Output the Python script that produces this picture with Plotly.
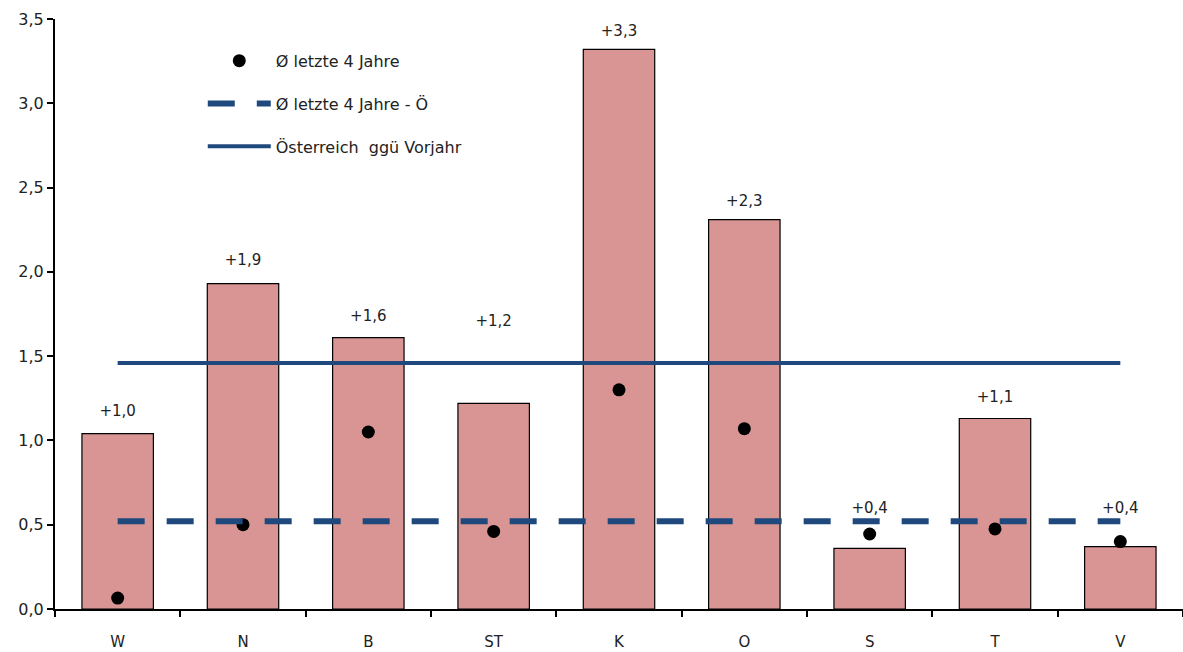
import plotly.graph_objects as go

categories = ["W", "N", "B", "ST", "K", "O", "S", "T", "V"]
bar_values = [1.04, 1.93, 1.61, 1.22, 3.32, 2.31, 0.36, 1.13, 0.37]
bar_labels = ["+1,0", "+1,9", "+1,6", "+1,2", "+3,3", "+2,3", "+0,4", "+1,1", "+0,4"]
label_y = [1.17, 2.06, 1.73, 1.70, 3.42, 2.41, 0.59, 1.25, 0.59]
avg4_values = [0.065, 0.50, 1.05, 0.46, 1.30, 1.07, 0.445, 0.475, 0.40]
avg4_austria = 0.52
austria_prev_year = 1.46

FONT = "DejaVu Sans"
BAR_COLOR = "#D99594"
BLUE = "#1F497D"
TXT = "#222222"

fig = go.Figure()

fig.add_trace(go.Bar(
    x=categories, y=bar_values, width=0.57,
    marker=dict(color=BAR_COLOR, line=dict(color="black", width=1.2)),
    showlegend=False, hoverinfo="skip",
))

fig.add_trace(go.Scatter(
    x=categories, y=avg4_values, mode="markers",
    marker=dict(color="black", size=13),
    name="Ø letzte 4 Jahre", legendgroup="a",
))
fig.add_trace(go.Scatter(
    x=categories, y=[avg4_austria] * len(categories), mode="lines",
    line=dict(color=BLUE, width=6, dash="27px,22px"),
    name="Ø letzte 4 Jahre - Ö", legendgroup="b",
))
fig.add_trace(go.Scatter(
    x=categories, y=[austria_prev_year] * len(categories), mode="lines",
    line=dict(color=BLUE, width=4),
    name="Österreich  ggü Vorjahr", legendgroup="c",
))

fig.add_trace(go.Scatter(
    x=categories, y=label_y, mode="text", text=bar_labels,
    textfont=dict(family=FONT, size=15, color=TXT),
    showlegend=False, hoverinfo="skip",
))

fig.update_layout(
    width=1183, height=652,
    margin=dict(l=55, r=0, t=19, b=43),
    paper_bgcolor="white", plot_bgcolor="white",
    separators=",.",
    font=dict(family=FONT, size=15, color=TXT),
    legend=dict(
        x=0.131, y=0.958, xanchor="left", yanchor="top",
        traceorder="grouped", tracegroupgap=19, itemwidth=63,
        font=dict(family=FONT, size=16, color=TXT),
        bgcolor="rgba(0,0,0,0)",
    ),
)
fig.update_xaxes(
    type="category", range=[-0.5, 8.5], automargin=False,
    showline=True, linecolor="black", linewidth=2,
    ticks="outside", tickson="boundaries", ticklen=6, tickcolor="black", tickwidth=2,
    showgrid=False, tickfont=dict(family=FONT, size=15, color=TXT),
    ticklabelstandoff=18,
)
fig.update_yaxes(
    range=[0, 3.5], dtick=0.5, tickformat=".1f", automargin=False,
    showline=True, linecolor="black", linewidth=2,
    ticks="outside", ticklen=6, tickcolor="black", tickwidth=2,
    showgrid=False, zeroline=False,
    tickfont=dict(family=FONT, size=16, color=TXT),
)

fig.write_html("out.html", config={"displayModeBar": False},
               post_script="document.body.style.margin='0';")
